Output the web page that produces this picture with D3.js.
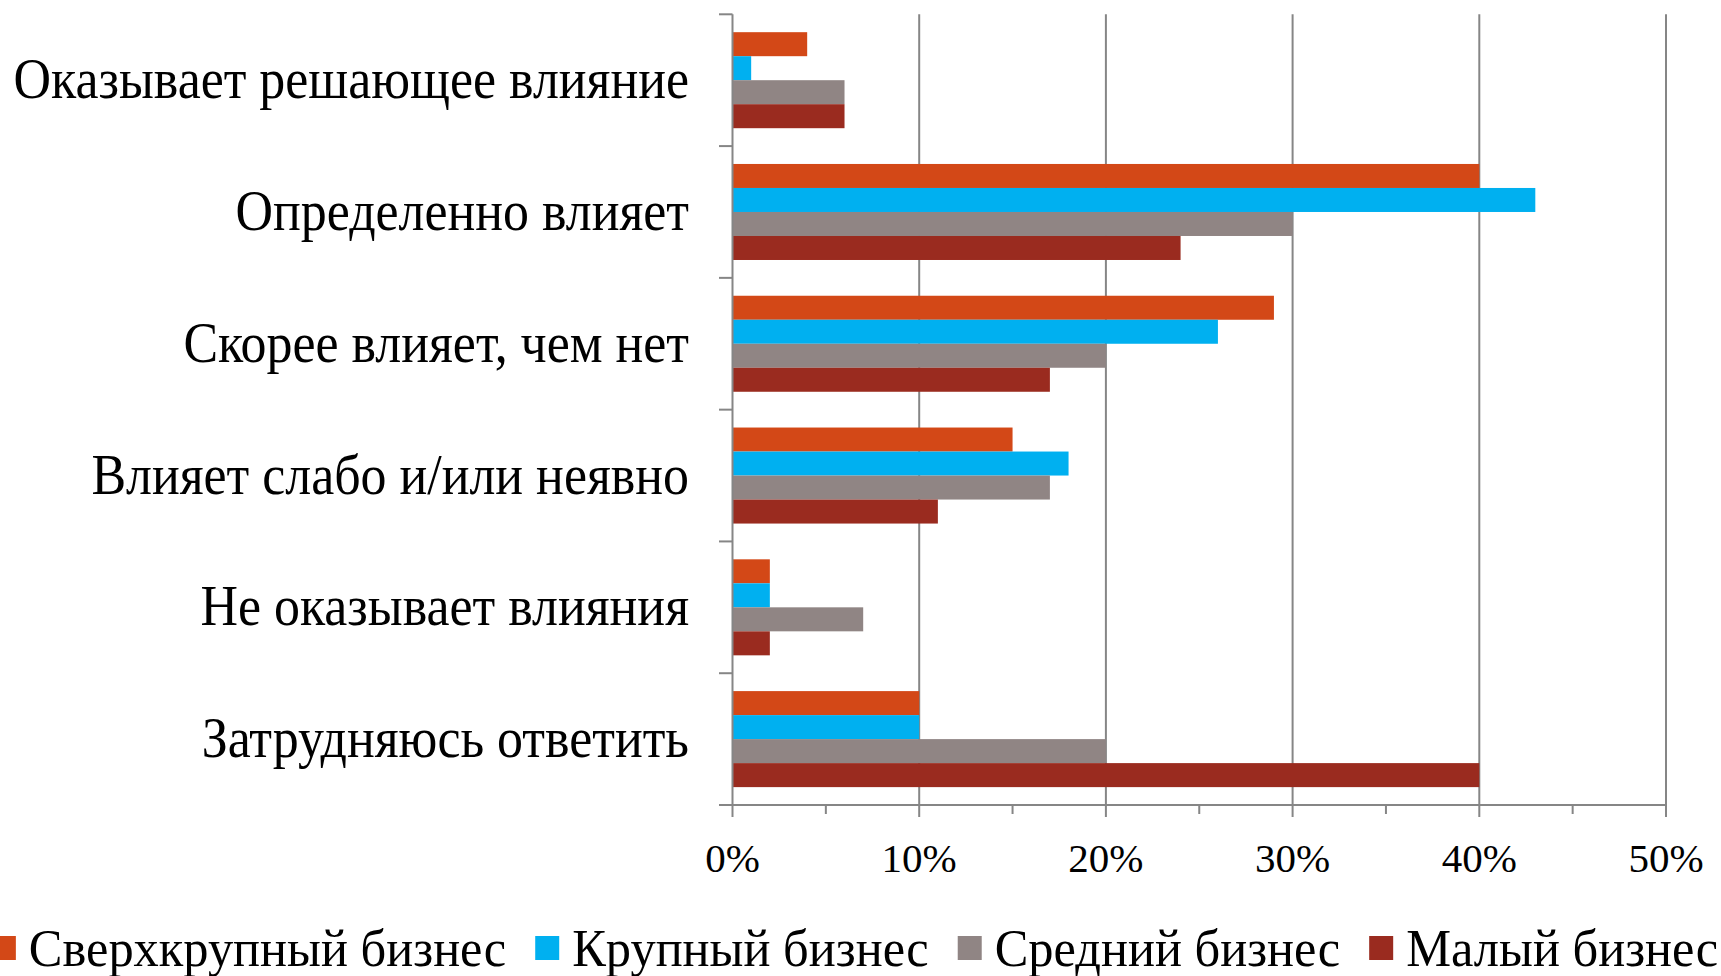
<!DOCTYPE html>
<html><head><meta charset="utf-8">
<script src="https://cdn.jsdelivr.net/npm/d3@7"></script>
<style>html,body{margin:0;padding:0;background:#fff;overflow:hidden}</style>
</head><body>
<svg id="c" width="1721" height="976"></svg>
<script>
const categories = ["Оказывает решающее влияние","Определенно влияет","Скорее влияет, чем нет","Влияет слабо и/или неявно","Не оказывает влияния","Затрудняюсь ответить"];
const seriesNames = ["Сверхкрупный бизнес","Крупный бизнес","Средний бизнес","Малый бизнес"];
const seriesColors = ["#D34817","#00B0F0","#908584","#9A2B1F"];
const superLarge = [4,40,29,15,2,10];
const large = [1,43,26,18,2,10];
const medium = [6,30,20,17,7,20];
const small = [6,24,17,11,2,40];
const xTicks = [0,10,20,30,40,50];
const seriesValues = [superLarge, large, medium, small];

(function(){
const svg = d3.select("#c");
const pL = 732.5, pR = 1666, pT = 14.3, pB = 805;
const x = d3.scaleLinear().domain([0,50]).range([pL,pR]);
const y = d3.scaleBand().domain(categories).range([pT,pB]).padding(0);
const yi = d3.scaleBand().domain(seriesNames).range([0,y.step()]).paddingInner(0).paddingOuter(0.745);
const gridColor = "#868686";
const serif = "'Liberation Serif','Times New Roman',serif";

// gridlines
svg.append("g").selectAll("line").data(xTicks.filter(d=>d>0)).join("line")
  .attr("x1",d=>x(d)).attr("x2",d=>x(d)).attr("y1",pT).attr("y2",pB)
  .attr("stroke",gridColor).attr("stroke-width",2);

// bars
const rows = [];
categories.forEach((c,i)=>seriesNames.forEach((s,j)=>rows.push({c,s,v:seriesValues[j][i],col:seriesColors[j]})));
svg.append("g").selectAll("rect").data(rows).join("rect")
  .attr("x",x(0)).attr("y",d=>y(d.c)+yi(d.s)).attr("width",d=>x(d.v)-x(0)).attr("height",yi.bandwidth())
  .attr("fill",d=>d.col);

// y axis
const yAxis = svg.append("g");
yAxis.append("line").attr("x1",pL).attr("x2",pL).attr("y1",pT).attr("y2",pB).attr("stroke",gridColor).attr("stroke-width",2);
const bounds = categories.map(c=>y(c)).concat([pB]);
yAxis.selectAll("line.t").data(bounds).join("line").attr("class","t")
  .attr("x1",pL-13.5).attr("x2",pL).attr("y1",d=>d).attr("y2",d=>d).attr("stroke",gridColor).attr("stroke-width",2);
yAxis.selectAll("text").data(categories).join("text")
  .attr("transform",d=>`translate(689,${y(d)+y.bandwidth()/2+18}) scale(0.895,1)`)
  .attr("text-anchor","end").attr("font-family",serif).attr("font-size",58).attr("fill","#000")
  .text(d=>d);

// x axis
const xAxis = svg.append("g");
xAxis.append("line").attr("x1",pL-13.5).attr("x2",pR).attr("y1",pB).attr("y2",pB).attr("stroke",gridColor).attr("stroke-width",2);
xAxis.selectAll("line.maj").data(xTicks).join("line").attr("class","maj")
  .attr("x1",d=>x(d)).attr("x2",d=>x(d)).attr("y1",pB).attr("y2",pB+12).attr("stroke",gridColor).attr("stroke-width",2);
xAxis.selectAll("line.min").data(xTicks.slice(0,-1).map(d=>d+5)).join("line").attr("class","min")
  .attr("x1",d=>x(d)).attr("x2",d=>x(d)).attr("y1",pB).attr("y2",pB+9).attr("stroke",gridColor).attr("stroke-width",2);
xAxis.selectAll("text").data(xTicks).join("text")
  .attr("x",d=>x(d)).attr("y",872).attr("text-anchor","middle")
  .attr("font-family",serif).attr("font-size",41).attr("fill","#000")
  .text(d=>d+"%");

// legend
const lg = svg.append("g");
const items = lg.selectAll("g").data(seriesNames).join("g");
items.append("rect").attr("width",24).attr("height",24).attr("y",936).attr("fill",(d,i)=>seriesColors[i]);
items.append("text").attr("y",966).attr("font-family",serif).attr("font-size",52).attr("fill","#000")
  .text(d=>d);
const lsx = 0.97;
const widths = [];
items.select("text").each(function(){widths.push(this.getComputedTextLength()*lsx);});
const sq = 24, gap1 = 13, gap2 = 29;
const total = d3.sum(widths) + seriesNames.length*(sq+gap1) + (seriesNames.length-1)*gap2;
let cx = 855 - total/2;
items.each(function(d,i){
  const g = d3.select(this);
  g.select("rect").attr("x",cx);
  g.select("text").attr("transform",`translate(${cx+sq+gap1},0) scale(${lsx},1)`);
  cx += sq+gap1+widths[i]+gap2;
});
})();
</script>
</body></html>
